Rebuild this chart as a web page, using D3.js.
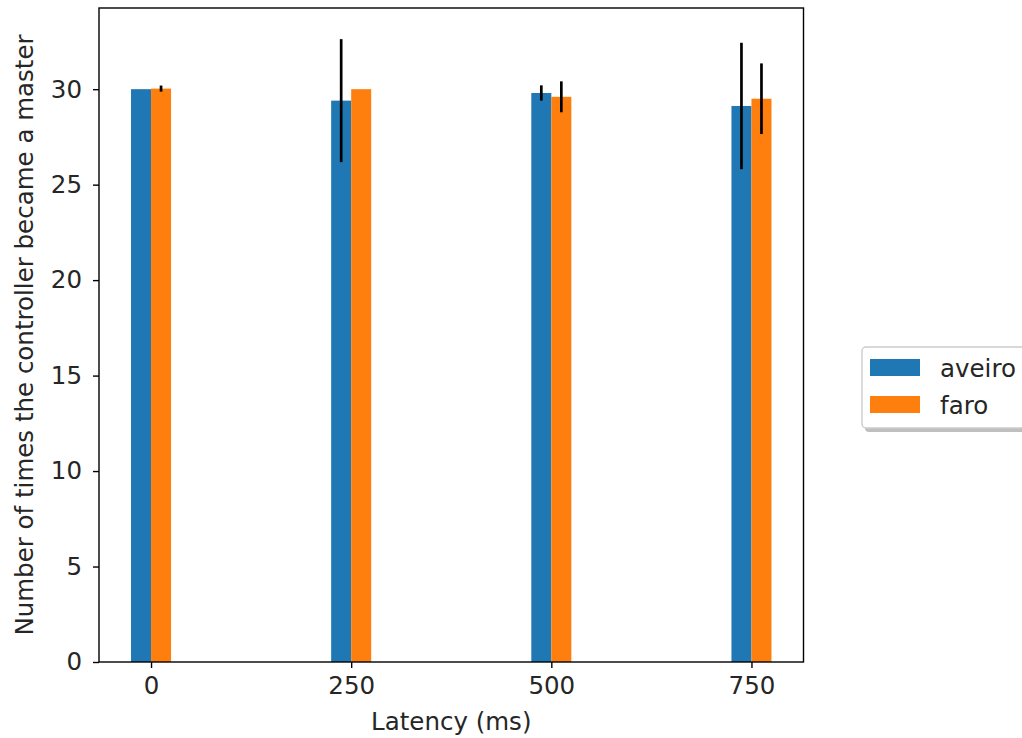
<!DOCTYPE html>
<html>
<head>
<meta charset="utf-8">
<script src="https://cdn.jsdelivr.net/npm/d3@7"></script>
<style>
  html, body { margin: 0; padding: 0; background: #fff; }
  svg { display: block; }
  text { font-family: "DejaVu Sans", sans-serif; fill: #262626; }
</style>
</head>
<body>
<svg id="chart" width="1022" height="738"></svg>
<script>
// Latency levels (ms) on the x axis
const latencies = [0, 250, 500, 750];
const seriesNames = ["aveiro", "faro"];
const seriesColors = ["#1f77b4", "#ff7f0e"];
// Mean count of times each controller became master, with std deviation
const aveiroMean = [30.0, 29.4, 29.8, 29.12];
const aveiroErr  = [0.0, 3.22, 0.40, 3.31];
const faroMean   = [30.03, 30.0, 29.6, 29.5];
const faroErr    = [0.16, 0.0, 0.81, 1.85];
const yTicks = [0, 5, 10, 15, 20, 25, 30];
const xLabel = "Latency (ms)";
const yLabel = "Number of times the controller became a master";

const barWidth = 25; // in ms units
const series = [
  { name: seriesNames[0], color: seriesColors[0], mean: aveiroMean, err: aveiroErr, offset: -barWidth / 2 },
  { name: seriesNames[1], color: seriesColors[1], mean: faroMean, err: faroErr, offset: barWidth / 2 }
];

const svg = d3.select("#chart");
const plot = { left: 99, right: 803.5, top: 8, bottom: 662 };
const fontSize = 24.5;

// Data extent with 5% margins on each side
const xMin = d3.min(latencies) - barWidth, xMax = d3.max(latencies) + barWidth;
const xPad = (xMax - xMin) * 0.05;
const x = d3.scaleLinear().domain([xMin - xPad, xMax + xPad]).range([plot.left, plot.right]);

const topVal = d3.max(series.flatMap(s => s.mean.map((m, i) => m + s.err[i])));
const y = d3.scaleLinear().domain([0, topVal * 1.05]).range([plot.bottom, plot.top]);

// Bars
series.forEach(s => {
  svg.append("g").selectAll("rect")
    .data(latencies.map((l, i) => ({ l, v: s.mean[i] })))
    .join("rect")
    .attr("x", d => x(d.l + s.offset - barWidth / 2))
    .attr("width", d => x(d.l + s.offset + barWidth / 2) - x(d.l + s.offset - barWidth / 2))
    .attr("y", d => y(d.v))
    .attr("height", d => y(0) - y(d.v))
    .attr("fill", s.color);
});

// Error bars
series.forEach(s => {
  svg.append("g").selectAll("line")
    .data(latencies.map((l, i) => ({ l, v: s.mean[i], e: s.err[i] })).filter(d => d.e > 0))
    .join("line")
    .attr("x1", d => x(d.l + s.offset))
    .attr("x2", d => x(d.l + s.offset))
    .attr("y1", d => y(d.v - d.e))
    .attr("y2", d => y(d.v + d.e))
    .attr("stroke", "#000")
    .attr("stroke-width", 2.7);
});

// Axes
const xAxis = svg.append("g")
  .attr("transform", `translate(0,${plot.bottom})`)
  .call(d3.axisBottom(x).tickValues(latencies).tickSize(6).tickPadding(9).tickFormat(d3.format("d")));
const yAxis = svg.append("g")
  .attr("transform", `translate(${plot.left},0)`)
  .call(d3.axisLeft(y).tickValues(yTicks).tickSize(6).tickPadding(11).tickFormat(d3.format("d")));
[xAxis, yAxis].forEach(a => {
  a.select(".domain").remove();
  a.selectAll(".tick line").attr("stroke", "#000").attr("stroke-width", 1.4);
  a.selectAll(".tick text").attr("font-size", fontSize).attr("font-family", "DejaVu Sans").attr("fill", "#262626");
});

// Frame
svg.append("rect")
  .attr("x", plot.left).attr("y", plot.top)
  .attr("width", plot.right - plot.left).attr("height", plot.bottom - plot.top)
  .attr("fill", "none").attr("stroke", "#000").attr("stroke-width", 1.4);

// Axis titles
svg.append("text")
  .attr("x", (plot.left + plot.right) / 2).attr("y", 730)
  .attr("text-anchor", "middle").attr("font-size", fontSize)
  .text(xLabel);
svg.append("text")
  .attr("transform", `translate(33,${(plot.top + plot.bottom) / 2}) rotate(-90)`)
  .attr("text-anchor", "middle").attr("font-size", fontSize)
  .text(yLabel);

// Legend with shadow
const lg = { x: 862, y: 347, w: 175, h: 81 };
svg.append("rect")
  .attr("x", lg.x + 3).attr("y", lg.y + 4).attr("width", lg.w).attr("height", lg.h)
  .attr("rx", 4).attr("fill", "#7f7f7f").attr("opacity", 0.5);
svg.append("rect")
  .attr("x", lg.x).attr("y", lg.y).attr("width", lg.w).attr("height", lg.h)
  .attr("rx", 4).attr("fill", "#fff").attr("stroke", "#cccccc").attr("stroke-width", 1.4);
const legendItems = svg.append("g").selectAll("g")
  .data(series)
  .join("g")
  .attr("transform", (d, i) => `translate(${lg.x + 8},${lg.y + 12 + i * 37})`);
legendItems.append("rect")
  .attr("width", 50).attr("height", 17)
  .attr("fill", d => d.color);
legendItems.append("text")
  .attr("x", 70).attr("y", 18)
  .attr("font-size", fontSize)
  .text(d => d.name);
</script>
</body>
</html>
